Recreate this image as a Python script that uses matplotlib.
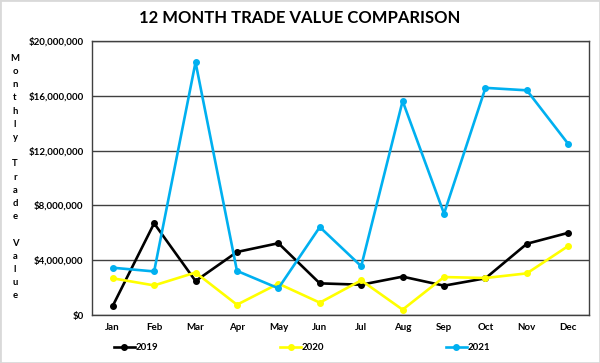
import matplotlib.pyplot as plt
from matplotlib.ticker import FuncFormatter

months = ['Jan', 'Feb', 'Mar', 'Apr', 'May', 'Jun', 'Jul', 'Aug', 'Sep', 'Oct', 'Nov', 'Dec']
v2019 = [0.66, 6.69, 2.48, 4.60, 5.24, 2.31, 2.21, 2.80, 2.14, 2.68, 5.20, 6.00]
v2020 = [2.68, 2.16, 3.10, 0.75, 2.29, 0.90, 2.53, 0.39, 2.77, 2.70, 3.04, 5.04]
v2021 = [3.45, 3.18, 18.45, 3.22, 1.95, 6.42, 3.56, 15.62, 7.40, 16.58, 16.40, 12.48]
series = [('2019', v2019, '#000000'), ('2020', v2020, '#FFFF00'), ('2021', v2021, '#00B0F0')]

plt.rcParams['font.family'] = ['Lato', 'DejaVu Sans']

fig = plt.figure(figsize=(6, 3.63), dpi=100)
fig.patch.set_facecolor('white')
ax = fig.add_axes([92 / 600, 1 - 315 / 363, 497 / 600, 274 / 363])

x = range(len(months))
for name, vals, color in series:
    ax.plot(x, [v * 1e6 for v in vals], color=color, lw=1.9, marker='o', ms=4,
            label=name, zorder=3)

ax.set_xlim(-0.5, 11.5)
ax.set_ylim(0, 20e6)
ax.set_yticks([0, 4e6, 8e6, 12e6, 16e6, 20e6])
ax.yaxis.set_major_formatter(FuncFormatter(lambda v, p: f'${v:,.0f}'))
ax.set_xticks(list(x))
ax.set_xticklabels(months)
ax.grid(axis='y', color='#404040', lw=1.0, zorder=1)
ax.tick_params(length=0, labelsize=7, pad=6)
for lab in ax.get_xticklabels() + ax.get_yticklabels():
    lab.set_fontweight('bold')
for s in ax.spines.values():
    s.set_color('#404040')
    s.set_linewidth(1.0)

fig.text(0.5, 1 - 18 / 363, '12 MONTH TRADE VALUE COMPARISON', ha='center', va='center',
         fontsize=12, fontweight='bold')

ylab = '\n'.join(list('Monthly Trade Value'))
fig.text(15 / 600, 1 - 177 / 363, ylab, ha='center', va='center', fontsize=6.8,
         fontweight='bold', linespacing=1.6)

leg = fig.legend(loc='center', bbox_to_anchor=(302 / 600, 1 - 348 / 363), ncol=3, frameon=False,
                 prop={'weight': 'bold', 'size': 7}, columnspacing=12.5,
                 handlelength=2.2, handletextpad=0.05)

# light grey frame around the picture
fig.add_artist(plt.Rectangle((0, 0), 1, 1, transform=fig.transFigure, fill=False,
                             edgecolor='#d9d9d9', lw=2))

fig.savefig('out.png', dpi=100)
